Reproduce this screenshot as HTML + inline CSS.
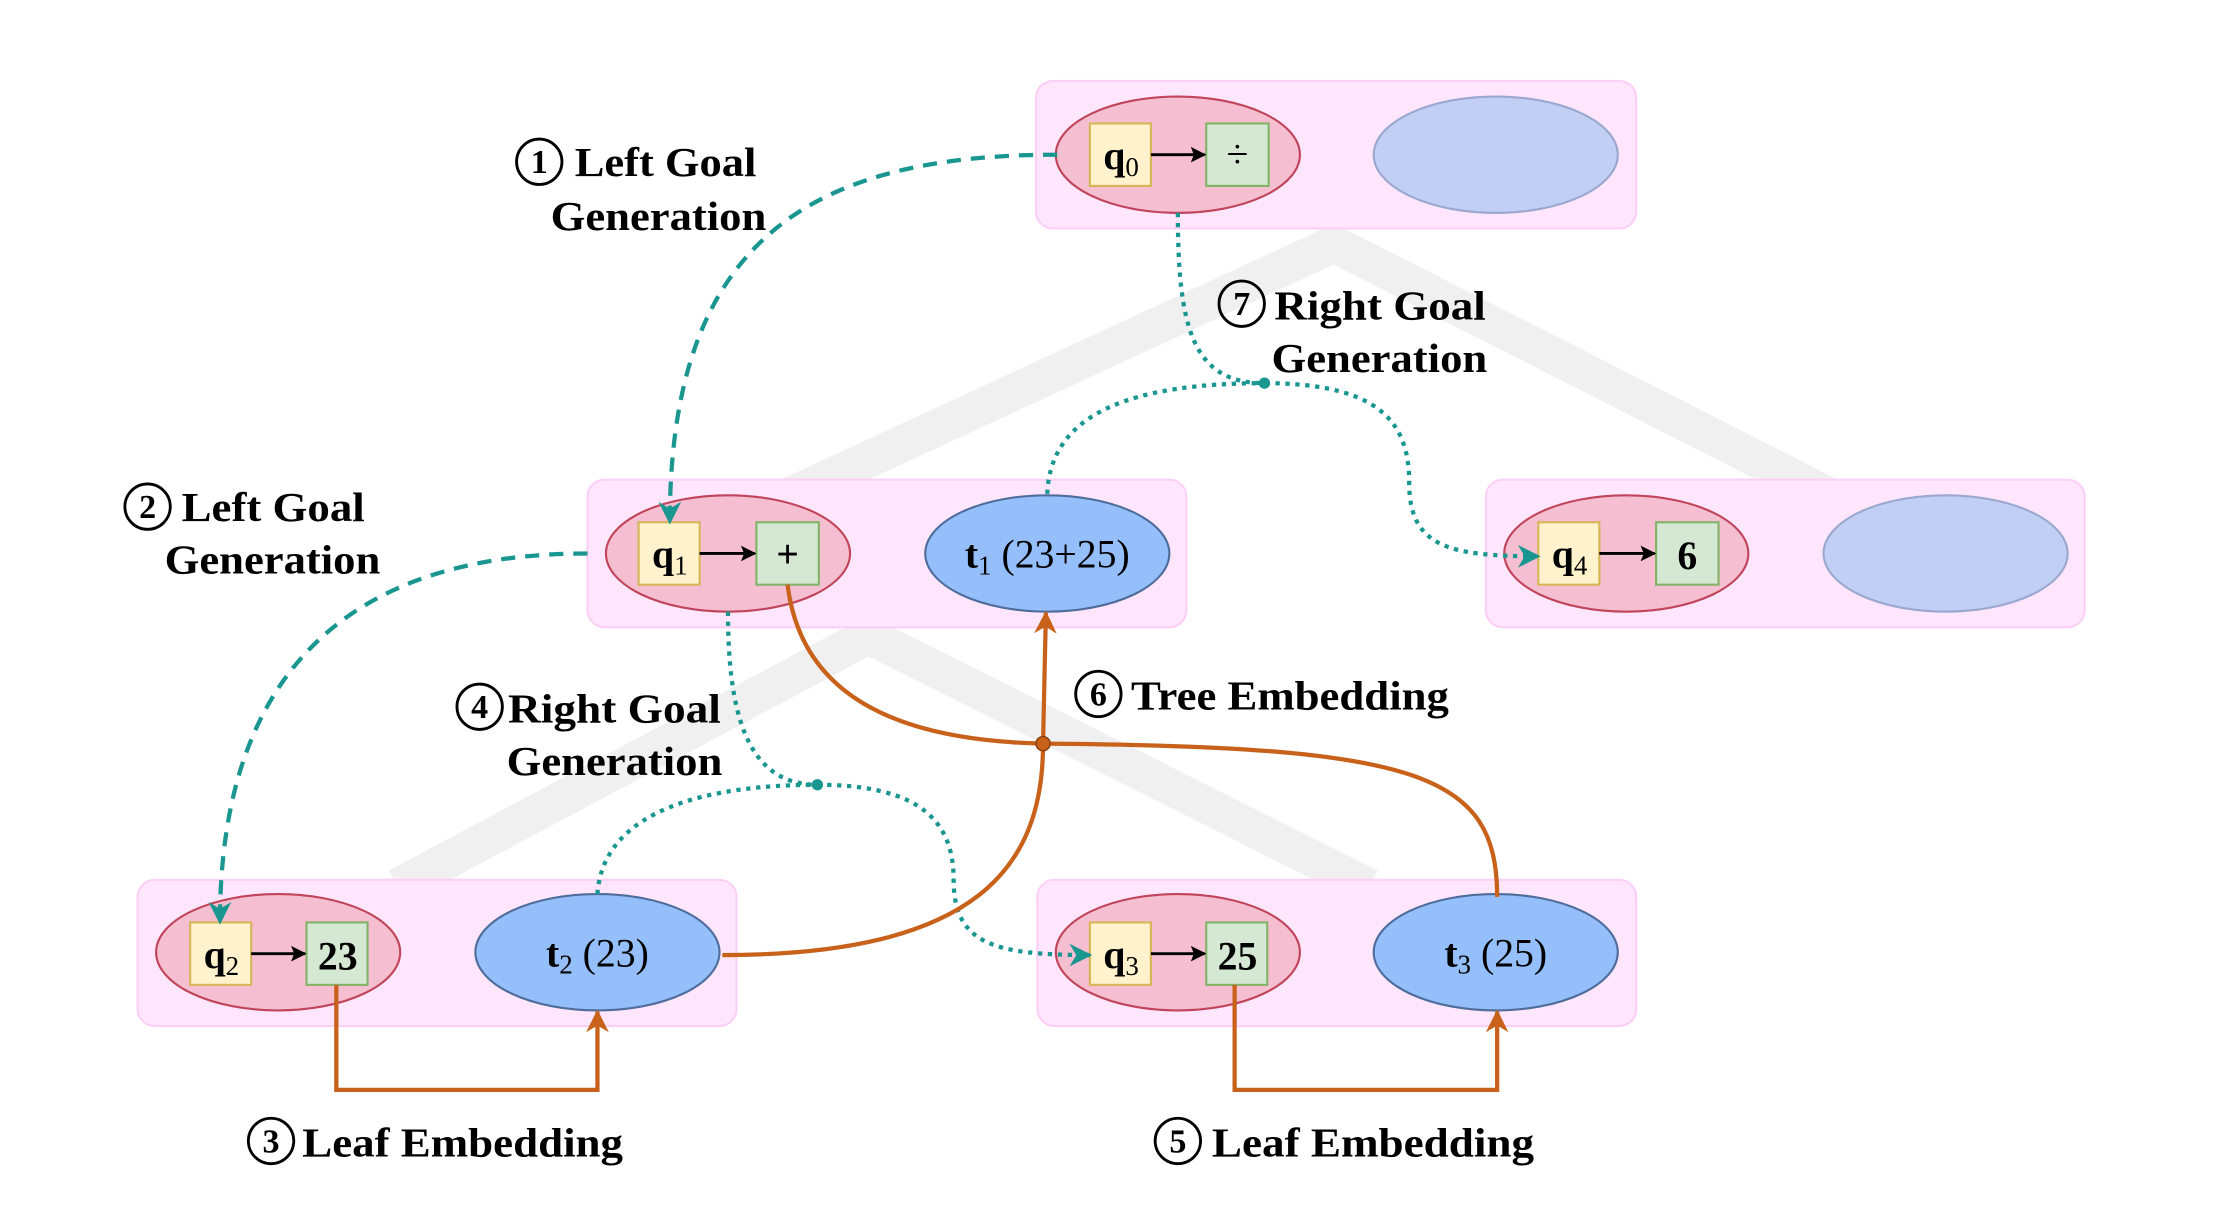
<!DOCTYPE html>
<html><head><meta charset="utf-8"><style>
html,body{margin:0;padding:0;background:#fff;}
svg{display:block;}
text{font-family:"Liberation Serif",serif;}
</style></head><body>
<svg width="2228" height="1224" viewBox="0 0 1570 862.5" xmlns="http://www.w3.org/2000/svg">
<defs>
<marker id="ta" viewBox="0 0 10 10" refX="9" refY="5" markerWidth="16" markerHeight="16" orient="auto" markerUnits="userSpaceOnUse"><path d="M0,0 L10,5 L0,10 L3,5 z" fill="#1a9690"/></marker>
<marker id="oa" viewBox="0 0 10 10" refX="9" refY="5" markerWidth="16" markerHeight="16" orient="auto" markerUnits="userSpaceOnUse"><path d="M0,0 L10,5 L0,10 L3,5 z" fill="#c8611a"/></marker>
<marker id="ka" viewBox="0 0 10 10" refX="9" refY="5" markerWidth="11" markerHeight="11" orient="auto" markerUnits="userSpaceOnUse"><path d="M0,0 L10,5 L0,10 L2,5 z" fill="#000"/></marker>
</defs>
<g stroke="#f0f0f0" stroke-width="26" fill="none">
<path d="M555,350 L940,172 L1290,350"/>
<path d="M280,625 L612,448 L965,625"/>
</g>
<g fill="#ffe6fc" stroke="#fcd0f6" stroke-width="1.5">
<rect x="730" y="57" width="423" height="104" rx="12"/>
<rect x="414" y="338" width="422" height="104" rx="12"/>
<rect x="1047" y="338" width="422" height="104" rx="12"/>
<rect x="97" y="620" width="422" height="103" rx="12"/>
<rect x="731" y="620" width="422" height="103" rx="12"/>
</g>
<g stroke-width="1.5">
<ellipse cx="830" cy="109" rx="86" ry="41" fill="#f5bfd1" stroke="#c0445a"/>
<ellipse cx="1054" cy="109" rx="86" ry="41" fill="#c2cff4" stroke="#9aa8d0"/>
<ellipse cx="513" cy="390" rx="86" ry="41" fill="#f5bfd1" stroke="#c0445a"/>
<ellipse cx="738" cy="390" rx="86" ry="41" fill="#94bffa" stroke="#4f6d9c"/>
<ellipse cx="1146" cy="390" rx="86" ry="41" fill="#f5bfd1" stroke="#c0445a"/>
<ellipse cx="1371" cy="390" rx="86" ry="41" fill="#c2cff4" stroke="#9aa8d0"/>
<ellipse cx="196" cy="671" rx="86" ry="41" fill="#f5bfd1" stroke="#c0445a"/>
<ellipse cx="421" cy="671" rx="86" ry="41" fill="#94bffa" stroke="#4f6d9c"/>
<ellipse cx="830" cy="671" rx="86" ry="41" fill="#f5bfd1" stroke="#c0445a"/>
<ellipse cx="1054" cy="671" rx="86" ry="41" fill="#94bffa" stroke="#4f6d9c"/>
</g>
<g stroke-width="1.5">
<rect x="768" y="87" width="43" height="44" fill="#fff2cc" stroke="#d6b656"/>
<rect x="850" y="87" width="44" height="44" fill="#d5e8d4" stroke="#82b366"/>
<rect x="450" y="368" width="43" height="44" fill="#fff2cc" stroke="#d6b656"/>
<rect x="533" y="368" width="44" height="44" fill="#d5e8d4" stroke="#82b366"/>
<rect x="1084" y="368" width="43" height="44" fill="#fff2cc" stroke="#d6b656"/>
<rect x="1167" y="368" width="44" height="44" fill="#d5e8d4" stroke="#82b366"/>
<rect x="134" y="650" width="43" height="44" fill="#fff2cc" stroke="#d6b656"/>
<rect x="216" y="650" width="43" height="44" fill="#d5e8d4" stroke="#82b366"/>
<rect x="768" y="650" width="43" height="44" fill="#fff2cc" stroke="#d6b656"/>
<rect x="850" y="650" width="43" height="44" fill="#d5e8d4" stroke="#82b366"/>
</g>
<g stroke="#000" stroke-width="2" marker-end="url(#ka)">
<line x1="811" y1="109" x2="849" y2="109"/>
<line x1="493" y1="390" x2="532" y2="390"/>
<line x1="1127" y1="390" x2="1166" y2="390"/>
<line x1="177" y1="672" x2="215" y2="672"/>
<line x1="811" y1="672" x2="849" y2="672"/>
</g>
<g font-size="28" fill="#000" text-anchor="middle">
<text x="790" y="119" font-weight="bold">q<tspan font-size="19" font-weight="normal" dy="5">0</tspan></text>
<text x="872" y="118">÷</text>
<text x="472" y="400" font-weight="bold">q<tspan font-size="19" font-weight="normal" dy="5">1</tspan></text>
<text x="555" y="400" font-weight="bold">+</text>
<text x="1106" y="400" font-weight="bold">q<tspan font-size="19" font-weight="normal" dy="5">4</tspan></text>
<text x="1189" y="401" font-weight="bold">6</text>
<text x="156" y="682" font-weight="bold">q<tspan font-size="19" font-weight="normal" dy="5">2</tspan></text>
<text x="238" y="683" font-weight="bold">23</text>
<text x="790" y="682" font-weight="bold">q<tspan font-size="19" font-weight="normal" dy="5">3</tspan></text>
<text x="872" y="683" font-weight="bold">25</text>
<text x="738" y="400"><tspan font-weight="bold">t</tspan><tspan font-size="19" dy="5">1</tspan><tspan dy="-5"> (23+25)</tspan></text>
<text x="421" y="681"><tspan font-weight="bold">t</tspan><tspan font-size="19" dy="5">2</tspan><tspan dy="-5"> (23)</tspan></text>
<text x="1054" y="681"><tspan font-weight="bold">t</tspan><tspan font-size="19" dy="5">3</tspan><tspan dy="-5"> (25)</tspan></text>
</g>
<g fill="none" stroke="#1a9690" stroke-width="3" stroke-dasharray="10,7">
<path d="M745,109 C570,109 472,170 472,368" marker-end="url(#ta)"/>
<path d="M414,390 C250,390 155,470 155,650" marker-end="url(#ta)"/>
</g>
<g fill="none" stroke="#1a9690" stroke-width="3" stroke-dasharray="3,4">
<path d="M830,150 C830,230 840,270 891,270 C975,270 993,300 993,340 C993,385 1020,392 1084,392" marker-end="url(#ta)"/>
<path d="M738,348 C740,290 800,270 891,270"/>
<path d="M513,431 C513,500 525,553 576,553 C650,553 672,580 672,620 C672,665 700,673 768,673" marker-end="url(#ta)"/>
<path d="M421,630 C425,570 500,553 576,553"/>
</g>
<circle cx="891" cy="270" r="4" fill="#1a9690"/>
<circle cx="576" cy="553" r="4" fill="#1a9690"/>
<g fill="none" stroke="#c8611a" stroke-width="3">
<path d="M555,412 C565,495 640,522 735,524 C1000,526 1055,545 1055,632"/>
<path d="M509,673 C690,673 735,610 735,524 L737,432" marker-end="url(#oa)"/>
<path d="M237,694 L237,768 L421,768 L421,713" marker-end="url(#oa)"/>
<path d="M870,694 L870,768 L1055,768 L1055,713" marker-end="url(#oa)"/>
</g>
<circle cx="735" cy="524" r="5" fill="#c8611a" stroke="#8a3c0c" stroke-width="1"/>
<g fill="none" stroke="#000" stroke-width="2">
<circle cx="380" cy="114" r="16"/>
<circle cx="104" cy="357" r="16"/>
<circle cx="338" cy="498" r="16"/>
<circle cx="774" cy="489" r="16"/>
<circle cx="875" cy="214" r="16"/>
<circle cx="191" cy="804" r="16"/>
<circle cx="830" cy="804" r="16"/>
</g>
<g font-size="24" text-anchor="middle" font-weight="bold">
<text x="380" y="122">1</text><text x="104" y="365">2</text><text x="338" y="506">4</text>
<text x="774" y="497">6</text><text x="875" y="222">7</text><text x="191" y="812">3</text><text x="830" y="812">5</text>
</g>
<g font-size="29" font-weight="bold" fill="#000">
<text x="405" y="124" textLength="128" lengthAdjust="spacingAndGlyphs">Left Goal</text>
<text x="388" y="162" textLength="152" lengthAdjust="spacingAndGlyphs">Generation</text>
<text x="128" y="367" textLength="129" lengthAdjust="spacingAndGlyphs">Left Goal</text>
<text x="116" y="404" textLength="152" lengthAdjust="spacingAndGlyphs">Generation</text>
<text x="358" y="509" textLength="150" lengthAdjust="spacingAndGlyphs">Right Goal</text>
<text x="357" y="546" textLength="152" lengthAdjust="spacingAndGlyphs">Generation</text>
<text x="898" y="225" textLength="149" lengthAdjust="spacingAndGlyphs">Right Goal</text>
<text x="896" y="262" textLength="152" lengthAdjust="spacingAndGlyphs">Generation</text>
<text x="797" y="500" textLength="224" lengthAdjust="spacingAndGlyphs">Tree Embedding</text>
<text x="213" y="815" textLength="226" lengthAdjust="spacingAndGlyphs">Leaf Embedding</text>
<text x="854" y="815" textLength="227" lengthAdjust="spacingAndGlyphs">Leaf Embedding</text>
</g>
</svg>
</body></html>
